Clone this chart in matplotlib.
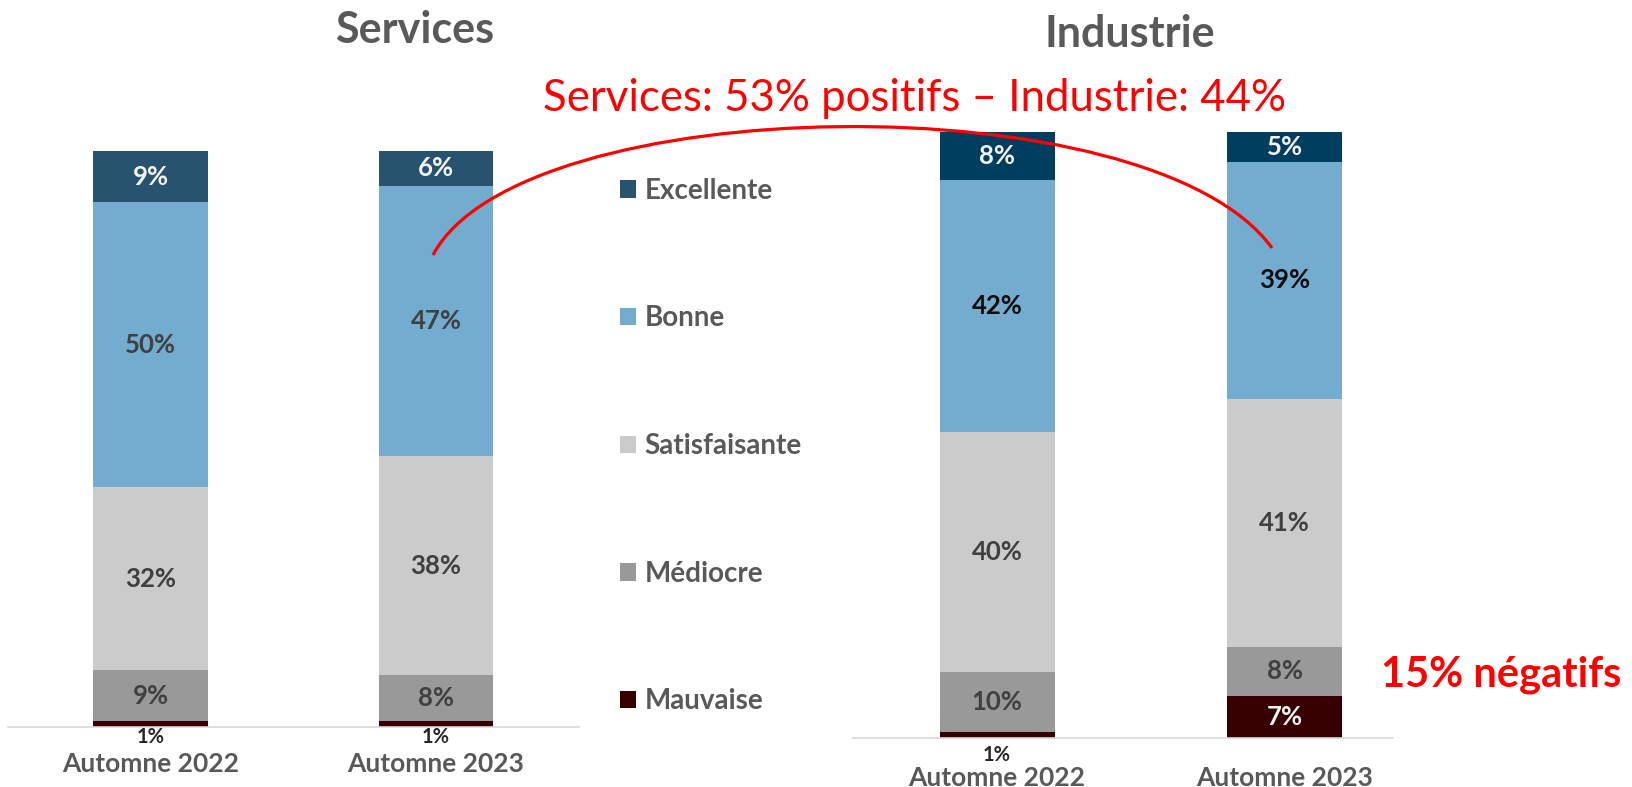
import numpy as np
import matplotlib
matplotlib.use("Agg")
from matplotlib import pyplot as plt
from matplotlib.path import Path
from matplotlib.patches import PathPatch

plt.rcParams['font.family'] = ['Lato', 'DejaVu Sans']

W, H = 1633, 787

periods = ["Automne 2022", "Automne 2023"]
categories = ["Mauvaise", "Médiocre", "Satisfaisante", "Bonne", "Excellente"]

# rows follow categories (bottom to top), columns follow periods
services_values = np.array([[1, 1], [9, 8], [32, 38], [50, 47], [9, 6]])
industrie_values = np.array([[1, 7], [10, 8], [40, 41], [42, 39], [8, 5]])

services_colors = ['#360000', '#999999', '#cbcbcb', '#74acd0', '#27536f']
industrie_colors = ['#360000', '#999999', '#cbcbcb', '#74acd0', '#003e60']

GREY = '#595959'


def draw_panel(ax, values, colors, bonne_txt, small_pad, tick_pad):
    shares = values / values.sum(axis=0) * 100
    x = np.arange(len(periods))
    bottom = np.zeros(len(periods))
    txt_colors = ['#f2f2f2', '#404040', '#404040', bonne_txt, '#f2f2f2']
    for i, cat in enumerate(categories):
        ax.bar(x, shares[i], 0.4, bottom=bottom, color=colors[i], label=cat,
               edgecolor='none')
        for j in range(len(periods)):
            v = values[i, j]
            if v < 3:
                ax.annotate(f"{v}%", (x[j], 0), xytext=(0, -small_pad),
                            textcoords='offset points', ha='center', va='center',
                            fontsize=14.5, weight='bold', color='#262626')
            else:
                ax.text(x[j], bottom[j] + shares[i, j] / 2, f"{v}%", ha='center',
                        va='center', fontsize=18.5, weight='bold', color=txt_colors[i])
        bottom += shares[i]
    ax.set_ylim(0, 100)
    ax.set_yticks([])
    ax.set_xticks(x)
    ax.set_xticklabels(periods, fontsize=19, weight='bold', color=GREY)
    ax.tick_params(axis='x', length=0, pad=tick_pad)
    for s in ['top', 'left', 'right']:
        ax.spines[s].set_visible(False)
    ax.spines['bottom'].set_color('#d9d9d9')
    ax.spines['bottom'].set_linewidth(1.2)


fig = plt.figure(figsize=(W / 100, H / 100), dpi=100)

ax1 = fig.add_axes([7.75 / W, (H - 727) / H, (578.75 - 7.75) / W, 576 / H])
draw_panel(ax1, services_values, services_colors, '#404040', 7, 18)
ax1.set_xlim(-0.5, 1.5)

ax2 = fig.add_axes([853.25 / W, (H - 738) / H, (1393 - 853.25) / W, 606 / H])
draw_panel(ax2, industrie_values, industrie_colors, '#0d0d0d', 12, 20)
ax2.set_xlim(-0.5, 1.377)

handles, labels = ax1.get_legend_handles_labels()
fig.legend(handles[::-1], labels[::-1], loc='center left',
           bbox_to_anchor=(620 / W, 1 - 446 / H), frameon=False,
           prop={'weight': 'bold', 'size': 20}, labelcolor=GREY,
           handlelength=0.58, handleheight=0.58, handletextpad=0.3,
           labelspacing=3.66, borderpad=0, borderaxespad=0)

# overlay in pixel coordinates for titles and annotations
ov = fig.add_axes([0, 0, 1, 1])
ov.set_xlim(0, W)
ov.set_ylim(H, 0)
ov.axis('off')

ov.text(415, 43, "Services", ha='center', va='baseline', fontsize=31,
        weight='bold', color=GREY)
ov.text(1130, 47, "Industrie", ha='center', va='baseline', fontsize=31,
        weight='bold', color=GREY)
ov.text(915, 111, "Services: 53% positifs – Industrie: 44%", ha='center',
        va='baseline', fontsize=31.5, color='#ff0000')
ov.text(1501, 687, "15% négatifs", ha='center', va='baseline', fontsize=30,
        weight='bold', color='#ff0000')

arc = Path([(433, 255), (520, 90), (1150, 80), (1272, 248)],
           [Path.MOVETO, Path.CURVE4, Path.CURVE4, Path.CURVE4])
ov.add_patch(PathPatch(arc, fc='none', ec='#ff0000', lw=2.3))

fig.savefig('out.png', dpi=100)
